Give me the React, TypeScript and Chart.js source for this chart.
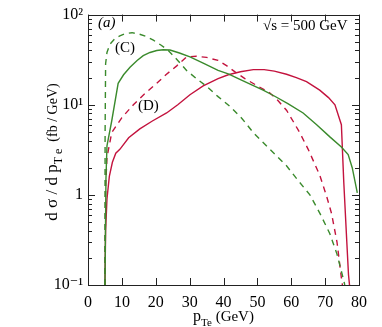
import React, { useEffect, useRef } from "react";
import { Chart, registerables } from "chart.js";

Chart.register(...registerables);

// (C) solid
const cSolidX = [5, 5.3, 5.6, 7, 8.9, 10.5, 12.4, 14.5, 16.3, 18.3, 20.3, 22.2, 24.2, 27, 30.1, 34, 38.4, 41.4, 45, 48.5, 51.7, 55, 59, 63.5, 67.5, 71.4, 74.8, 76.8, 78, 79.5];
const cSolidY = [0.1, 1.5, 3.5, 6.6, 17.3, 21.5, 26, 31, 35, 38, 40, 40.8, 40.5, 37.5, 34, 29, 24, 22, 19, 16.5, 14.5, 12.5, 10.3, 8.1, 6.0, 4.4, 3.4, 2.8, 2.0, 1.05];
// (C) dashed
const cDashX = [5, 5.05, 5.2, 5.6, 6.5, 8, 9.4, 11, 13, 15, 17.3, 19.3, 21.5, 23.7, 26.5, 29.1, 32, 35, 38.4, 40, 42, 45.5, 48.8, 53, 58.6, 62, 65.5, 68.5, 71.4, 73.5, 75.3, 75.8];
const cDashY = [0.1, 5, 28.5, 38, 47, 54.5, 58, 61.5, 63, 61, 57, 52, 46, 40, 31, 24, 19.5, 16, 12.3, 11, 9.5, 7.0, 4.9, 3.4, 2.1, 1.45, 1.0, 0.62, 0.37, 0.22, 0.12, 0.1];
// (D) solid
const dSolidX = [5, 5.2, 5.6, 6.3, 7.2, 8.2, 9.4, 12, 15.3, 19, 23.2, 26.5, 30.1, 34, 38.4, 41.4, 45, 48.8, 52, 55, 58.6, 61.5, 64.5, 68.4, 71, 72.9, 74.8, 75.5, 76.4, 76.9, 77.2];
const dSolidY = [0.1, 0.4, 0.9, 1.6, 2.3, 2.9, 3.2, 4.3, 5.4, 6.6, 8.1, 10, 12.9, 16.2, 19.5, 21.5, 23.2, 24.5, 24.5, 23.6, 21.8, 20, 18, 14.5, 12, 10, 6.0, 1.4, 0.3, 0.13, 0.1];
// (D) dashed
const dDashX = [5, 5.2, 5.6, 7, 10, 13.4, 16.5, 20.3, 23, 26.2, 29.1, 32, 35, 38.4, 41, 43.5, 46.3, 50, 53.7, 56, 58.6, 60.5, 62.5, 65, 68.4, 70.5, 71.9, 73.5, 74.8, 75.1];
const dDashY = [0.1, 1.2, 2.6, 4.9, 7.2, 10, 13, 17.3, 21.5, 27, 34, 34.5, 33.5, 31, 27, 23, 19.5, 16.2, 13.5, 11.2, 8.7, 6.6, 4.9, 3.2, 1.66, 0.95, 0.62, 0.3, 0.12, 0.1];

const xTicks = [0, 10, 20, 30, 40, 50, 60, 70, 80];
const yMajorTicks = [0.1, 1, 10, 100];
const yMajorLabels = ["10\u207B\u00B9", "1", "10\u00B9", "10\u00B2"];

const GREEN = "#3a8a2c";
const RED = "#c3133e";
const SERIF = "'Liberation Serif', 'DejaVu Serif', serif";

function pts(xs: number[], ys: number[]) {
  return xs.map((x, i) => ({ x, y: ys[i] }));
}

export default function App() {
  const ref = useRef<HTMLCanvasElement | null>(null);

  useEffect(() => {
    if (!ref.current) return;

    const decor = {
      id: "decor",
      afterDraw(chart: any) {
        const { ctx, chartArea: a, scales } = chart;
        const xs = scales.x;
        const ys = scales.y;
        ctx.save();
        ctx.strokeStyle = "#222";
        ctx.lineWidth = 1;
        // frame
        ctx.strokeRect(Math.round(a.left) + 0.5, Math.round(a.top) + 0.5, Math.round(a.right - a.left), Math.round(a.bottom - a.top));
        // x ticks (inward, bottom and top)
        ctx.beginPath();
        for (const v of xTicks) {
          const px = Math.round(xs.getPixelForValue(v)) + 0.5;
          ctx.moveTo(px, a.bottom);
          ctx.lineTo(px, a.bottom - 7);
          ctx.moveTo(px, a.top);
          ctx.lineTo(px, a.top + 7);
        }
        // y ticks (major + minor, left and right)
        for (let d = 0; d < yMajorTicks.length; d++) {
          const base = yMajorTicks[d];
          for (let m = 1; m <= 9; m++) {
            const v = base * m;
            if (v > 100.0001) break;
            const py = Math.round(ys.getPixelForValue(v)) + 0.5;
            const len = m === 1 ? 7 : 4;
            ctx.moveTo(a.left, py);
            ctx.lineTo(a.left + len, py);
            ctx.moveTo(a.right, py);
            ctx.lineTo(a.right - len, py);
          }
        }
        ctx.stroke();

        ctx.fillStyle = "#000";
        // x title
        ctx.textBaseline = "alphabetic";
        const f1 = `16px ${SERIF}`;
        const f2 = `11px ${SERIF}`;
        const f3 = `15px ${SERIF}`;
        ctx.font = f1;
        const wp = ctx.measureText("p").width;
        ctx.font = f2;
        const wt = ctx.measureText("Te").width;
        ctx.font = f3;
        const wg = ctx.measureText(" (GeV)").width;
        const x0 = (a.left + a.right) / 2 - (wp + wt + wg) / 2;
        const yb = 321;
        ctx.textAlign = "left";
        ctx.font = f1;
        ctx.fillText("p", x0, yb);
        ctx.font = f2;
        ctx.fillText("Te", x0 + wp, yb + 5);
        ctx.font = f3;
        ctx.fillText(" (GeV)", x0 + wp + wt, yb);

        // y title (rotated)
        ctx.save();
        ctx.translate(57, 152);
        ctx.rotate(-Math.PI / 2);
        const g1 = `17px ${SERIF}`;
        const g2 = `12px ${SERIF}`;
        const g3 = `14px ${SERIF}`;
        const s1 = "d \u03C3 / d p";
        const s2 = "T e";
        const s3 = "  (fb / GeV)";
        ctx.font = g1;
        const w1 = ctx.measureText(s1).width;
        ctx.font = g2;
        const w2 = ctx.measureText(s2).width;
        ctx.font = g3;
        const w3 = ctx.measureText(s3).width;
        const t0 = -(w1 + w2 + w3) / 2;
        ctx.font = g1;
        ctx.fillText(s1, t0, 0);
        ctx.font = g2;
        ctx.fillText(s2, t0 + w1, 5);
        ctx.font = g3;
        ctx.fillText(s3, t0 + w1 + w2, 0);
        ctx.restore();

        // annotations
        ctx.font = `italic 15px ${SERIF}`;
        ctx.fillText("(a)", 98, 27);
        ctx.font = `15px ${SERIF}`;
        ctx.fillText("(C)", 115, 52);
        ctx.fillText("(D)", 138, 110);
        ctx.fillText("\u221As = 500 GeV", 263, 30);
        ctx.restore();
      },
    };

    const chart = new Chart(ref.current, {
      type: "line",
      data: {
        datasets: [
          { label: "C solid", data: pts(cSolidX, cSolidY), borderColor: GREEN, borderWidth: 1.4, pointRadius: 0, tension: 0, fill: false },
          { label: "C dashed", data: pts(cDashX, cDashY), borderColor: GREEN, borderWidth: 1.4, borderDash: [6, 5], pointRadius: 0, tension: 0, fill: false },
          { label: "D solid", data: pts(dSolidX, dSolidY), borderColor: RED, borderWidth: 1.4, pointRadius: 0, tension: 0, fill: false },
          { label: "D dashed", data: pts(dDashX, dDashY), borderColor: RED, borderWidth: 1.4, borderDash: [6, 5], pointRadius: 0, tension: 0, fill: false },
        ],
      },
      options: {
        responsive: false,
        animation: false,
        devicePixelRatio: 1,
        layout: { padding: { top: 10, right: 23, left: 0, bottom: 0 } },
        plugins: { legend: { display: false }, tooltip: { enabled: false }, title: { display: false } },
        scales: {
          x: {
            type: "linear",
            min: 0,
            max: 80,
            grid: { display: false, drawTicks: false },
            border: { display: false },
            afterBuildTicks: (s: any) => {
              s.ticks = xTicks.map((v) => ({ value: v }));
            },
            afterFit: (s: any) => {
              s.height = 42;
            },
            ticks: { color: "#000", font: { family: SERIF, size: 16 }, padding: 8, maxRotation: 0, autoSkip: false },
          },
          y: {
            type: "logarithmic",
            min: 0.1,
            max: 100,
            grid: { display: false, drawTicks: false },
            border: { display: false },
            afterBuildTicks: (s: any) => {
              s.ticks = yMajorTicks.map((v) => ({ value: v }));
            },
            afterFit: (s: any) => {
              s.width = 88;
            },
            ticks: {
              color: "#000",
              font: { family: SERIF, size: 16 },
              padding: 5,
              autoSkip: false,
              callback: (v: any) => {
                const i = yMajorTicks.findIndex((t) => Math.abs(t - Number(v)) < 1e-9);
                return i >= 0 ? yMajorLabels[i] : "";
              },
            },
          },
        },
      } as any,
      plugins: [decor],
    });
    return () => chart.destroy();
  }, []);

  return (
    <canvas
      ref={ref}
      width={382}
      height={327}
      style={{ position: "absolute", left: 0, top: 0, width: 382, height: 327, background: "#fff" }}
    />
  );
}
